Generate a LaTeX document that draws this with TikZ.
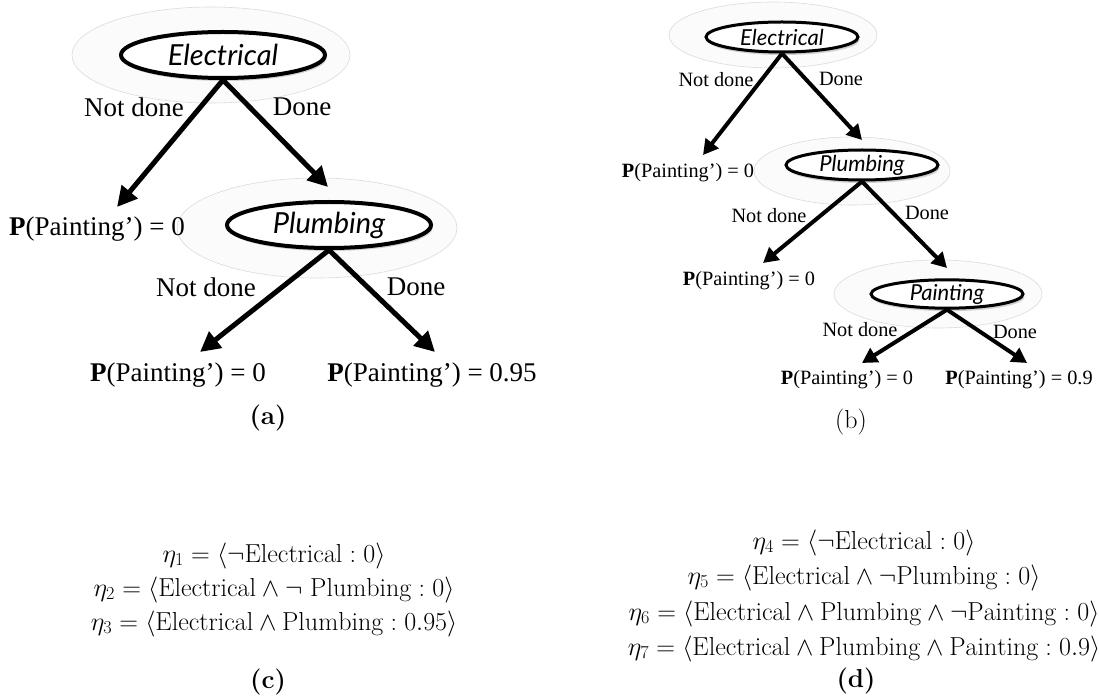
\RequirePackage{fix-cm}
\documentclass[tikz,border=0pt]{standalone}
\usepackage{fontspec}
\newfontfamily\timesfont{Liberation Serif}
\newfontfamily\handfont{Lato}
\usetikzlibrary{shapes.geometric,arrows.meta,shadows,positioning}

\begin{document}
\begin{tikzpicture}[x=1pt,y=-1pt,
    halo/.style={draw=black!14, fill=black!1.5, line width=.6pt},
    var/.style={ellipse, draw, fill=white, inner sep=0pt, drop shadow={shadow xshift=1.5pt, shadow yshift=-3pt, opacity=.35}},
    varA/.style={var, line width=4pt, minimum width=204pt, minimum height=46pt, font=\handfont\itshape\fontsize{29}{32}\selectfont},
    varB/.style={var, line width=3pt, minimum width=152pt, minimum height=30pt, font=\handfont\itshape\fontsize{22}{26}\selectfont},
    txtA/.style={inner sep=0pt, font=\timesfont\fontsize{27}{30}\selectfont},
    txtB/.style={inner sep=0pt, font=\timesfont\fontsize{20.3}{24}\selectfont},
    arrA/.style={line width=5pt, -{Triangle[length=20pt,width=20pt]}},
    arrB/.style={line width=4pt, -{Triangle[length=15pt,width=16pt]}},
    captxt/.style={inner sep=0pt, font=\fontsize{26}{30}\selectfont},
    eta/.style={inner sep=0pt, anchor=base, font=\fontsize{26}{30}\selectfont}]
\useasboundingbox (0,0) rectangle (1099,700);
\clip (0,0) rectangle (1099,700);

\draw[halo] (211,55) ellipse [x radius=139, y radius=48];
\draw[halo] (317,228) ellipse [x radius=140, y radius=50];
\draw[halo] (773,35) ellipse [x radius=104, y radius=33];
\draw[halo] (852,171) ellipse [x radius=98, y radius=34];
\draw[halo] (938,294) ellipse [x radius=104, y radius=34];

% (a)
\node[varA] at (223,55) (elecA) {Electrical};
\node[varA] at (329,225) (plumbA) {Plumbing};
\node[txtA] at (134,107) (ndA1) {Not done};
\node[txtA] at (302,107) (dA1) {Done};
\node[txtA] at (206,287) (ndA2) {Not done};
\node[txtA] at (416,287) (dA2) {Done};
\node[txtA] at (97,229) (leafA1) {\textbf{P}(Painting’) = 0};
\node[txtA] at (178,375) (leafA2) {\textbf{P}(Painting’) = 0};
\node[txtA] at (432,375) (leafA3) {\textbf{P}(Painting’) = 0.95};
\node[captxt] at (268,418) (capA) {\textbf{(a)}};
\coordinate (tA1) at (117,207);
\coordinate (tA2) at (328,187);
\coordinate (tA3) at (200,352);
\coordinate (tA4) at (435,352);
\path (elecA.south) edge[arrA] (tA1);
\path (elecA.south) edge[arrA] (tA2);
\path (plumbA.south) edge[arrA] (tA3);
\path (plumbA.south) edge[arrA] (tA4);

% (b)
\node[varB] at (782,37) (elecB) {Electrical};
\node[varB] at (862,165) (plumbB) {Plumbing};
\node[varB, minimum height=25pt] at (947,294) (paintB) {Painting};
\node[txtB] at (716,80) (ndB1) {Not done};
\node[txtB] at (841,79) (dB1) {Done};
\node[txtB] at (769,216) (ndB2) {Not done};
\node[txtB] at (927,213) (dB2) {Done};
\node[txtB] at (860,330) (ndB3) {Not done};
\node[txtB] at (1015,332) (dB3) {Done};
\node[txtB] at (688,173) (leafB1) {\textbf{P}(Painting’) = 0};
\node[txtB] at (749,281) (leafB2) {\textbf{P}(Painting’) = 0};
\node[txtB] at (847,380) (leafB3) {\textbf{P}(Painting’) = 0};
\node[txtB] at (1019,380) (leafB4) {\textbf{P}(Painting’) = 0.9};
\node[captxt] at (851,422) (capB) {(b)};
\coordinate (tB1) at (703,155);
\coordinate (tB2) at (862,140);
\coordinate (tB3) at (763,263);
\coordinate (tB4) at (947,268);
\coordinate (tB5) at (862,363);
\coordinate (tB6) at (1027,363);
\path (elecB.south) edge[arrB] (tB1);
\path (elecB.south) edge[arrB] (tB2);
\path (plumbB.south) edge[arrB] (tB3);
\path (plumbB.south) edge[arrB] (tB4);
\path (paintB.south) edge[arrB] (tB5);
\path (paintB.south) edge[arrB] (tB6);

% (c)
\node[eta] at (274,562) (eta1) {$\eta_1 = \langle\neg\mathrm{Electrical} : 0\rangle$};
\node[eta] at (274,596) (eta2) {$\eta_2 = \langle\mathrm{Electrical} \wedge \neg\ \mathrm{Plumbing} : 0\rangle$};
\node[eta] at (274,630) (eta3) {$\eta_3 = \langle\mathrm{Electrical} \wedge \mathrm{Plumbing} : 0.95\rangle$};
\node[captxt] at (268,682) (capC) {\textbf{(c)}};

% (d)
\node[eta] at (864,549) (eta4) {$\eta_4 = \langle\neg\mathrm{Electrical} : 0\rangle$};
\node[eta] at (864,584) (eta5) {$\eta_5 = \langle\mathrm{Electrical} \wedge \neg\mathrm{Plumbing} : 0\rangle$};
\node[eta] at (864,620) (eta6) {$\eta_6 = \langle\mathrm{Electrical} \wedge \mathrm{Plumbing} \wedge \neg\mathrm{Painting} : 0\rangle$};
\node[eta] at (864,655) (eta7) {$\eta_7 = \langle\mathrm{Electrical} \wedge \mathrm{Plumbing} \wedge \mathrm{Painting} : 0.9\rangle$};
\node[captxt] at (856,681) (capD) {\textbf{(d)}};
\end{tikzpicture}
\end{document}
